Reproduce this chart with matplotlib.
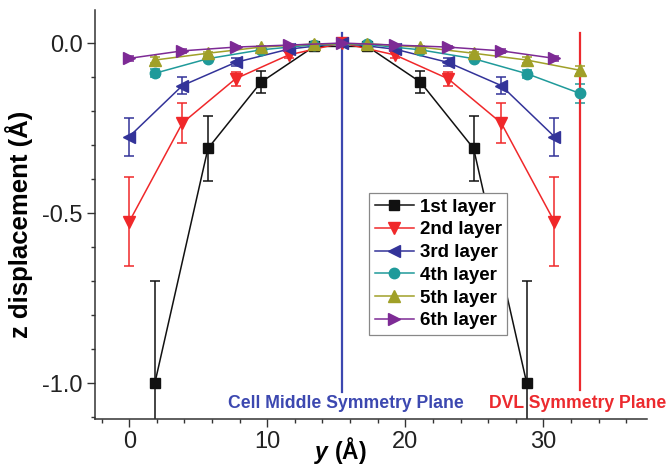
import matplotlib
matplotlib.use("Agg")
import matplotlib.pyplot as plt

plt.rcParams['font.family'] = ['Liberation Sans', 'DejaVu Sans']
plt.rcParams['mathtext.fontset'] = 'custom'
plt.rcParams['mathtext.it'] = 'Liberation Sans:bold:italic'
plt.rcParams['mathtext.rm'] = 'Liberation Sans:bold'
plt.rcParams['mathtext.bf'] = 'Liberation Sans:bold'

# ---- data ----
x_a = [0.0, 3.85, 7.7, 11.55, 15.4, 19.25, 23.1, 26.95, 30.8]
x_b = [1.85, 5.7, 9.55, 13.4, 17.25, 21.1, 24.95, 28.8]
x_c = [1.85, 5.7, 9.55, 13.4, 17.25, 21.1, 24.95, 28.8, 32.65]

layer1 = [-1.0, -0.31, -0.115, -0.01, -0.01, -0.115, -0.31, -1.0]
err1 = [0.30, 0.095, 0.033, 0.008, 0.008, 0.033, 0.095, 0.30]

layer2 = [-0.525, -0.235, -0.105, -0.035, 0.0, -0.035, -0.105, -0.235, -0.525]
err2 = [0.13, 0.058, 0.02, 0.01, 0.004, 0.01, 0.02, 0.058, 0.13]

layer3 = [-0.275, -0.125, -0.057, -0.018, 0.0, -0.018, -0.057, -0.125, -0.275]
err3 = [0.056, 0.025, 0.012, 0.005, 0.003, 0.005, 0.012, 0.025, 0.056]

layer4 = [-0.089, -0.046, -0.02, -0.005, -0.004, -0.02, -0.046, -0.09, -0.148]
err4 = [0.012, 0.006, 0.004, 0.002, 0.002, 0.004, 0.006, 0.012, 0.027]

layer5 = [-0.05, -0.03, -0.012, -0.003, -0.002, -0.012, -0.03, -0.05, -0.08]
err5 = [0.008, 0.005, 0.003, 0.002, 0.002, 0.003, 0.005, 0.008, 0.012]

layer6 = [-0.045, -0.023, -0.012, -0.006, 0.0, -0.006, -0.012, -0.023, -0.045]
err6 = [0.008, 0.005, 0.003, 0.002, 0.002, 0.002, 0.003, 0.005, 0.008]

labels = ['1st layer', '2nd layer', '3rd layer', '4th layer', '5th layer', '6th layer']

plane_x = [15.4, 32.65]
plane_top = [0.03, 0.03]
plane_bottom = [-1.026, -1.02]
plane_labels = ['Cell Middle Symmetry Plane', 'DVL Symmetry Plane']
plane_label_x = [15.7, 32.5]
plane_label_y = -1.059

# ---- style ----
colors = ['#111111', '#f0282a', '#333399', '#1f9a9a', '#a0a028', '#7d2a95']
markers = ['s', 'v', '<', 'o', '^', '>']
msizes = [7, 8.5, 8.5, 7.5, 8.5, 8.5]
plane_colors = ['#3c48b0', '#ec2a2e']

fig = plt.figure(figsize=(6.66, 4.66), dpi=100)
ax = fig.add_axes([0.1423, 0.1009, 0.8289, 0.8776])

series = [(x_b, layer1, err1), (x_a, layer2, err2), (x_a, layer3, err3),
          (x_c, layer4, err4), (x_c, layer5, err5), (x_a, layer6, err6)]

handles = []
for (xs, ys, es), c, m, ms, lab in zip(series, colors, markers, msizes, labels):
    cont = ax.errorbar(xs, ys, yerr=es, color=c, marker=m, markersize=ms, lw=1.1,
                       elinewidth=1.1, capsize=3.6, capthick=1.1, label=lab)
    handles.append(cont.lines[0])

for px, pt, pb, pc, pl, plx in zip(plane_x, plane_top, plane_bottom, plane_colors,
                                    plane_labels, plane_label_x):
    ax.plot([px, px], [pt, pb], color=pc, lw=1.6)
    ax.text(plx, plane_label_y, pl, color=pc, ha='center', va='center',
            fontsize=12.7, fontweight='bold')

ax.set_xlim(-2.5, 37.5)
ax.set_ylim(-1.105, 0.097)
ax.set_xticks([0, 10, 20, 30])
ax.set_xticks([x for x in range(-2, 38, 2)], minor=True)
ax.set_yticks([-1.0, -0.5, 0.0])
ax.set_yticklabels(['-1.0', '-0.5', '0.0'])
ax.set_yticks([-1.1 + 0.1 * i for i in range(12)], minor=True)

for s in ['top', 'right']:
    ax.spines[s].set_visible(False)
for s in ['left', 'bottom']:
    ax.spines[s].set_color('#333333')
    ax.spines[s].set_linewidth(1.1)

ax.tick_params(which='major', direction='out', length=5.5, width=1, color='#333333',
               labelsize=17, labelcolor='#222222', pad=3)
ax.tick_params(which='minor', direction='out', length=3, width=1, color='#333333')

ax.set_xlabel(r'$y$ (Å)', fontsize=16.5, fontweight='bold')
ax.set_ylabel('z displacement (Å)', fontsize=18.5, fontweight='bold')
ax.xaxis.set_label_coords(0.444, -0.04)
ax.yaxis.set_label_coords(-0.112, 0.477)

leg = ax.legend(handles=handles, labels=labels, loc='upper left',
                bbox_to_anchor=(0.497, 0.553), frameon=True,
                fancybox=False, edgecolor='#888888', framealpha=1,
                prop={'weight': 'bold', 'size': 13.5}, handlelength=2.1,
                labelspacing=0.3, borderpad=0.3, handletextpad=0.3,
                borderaxespad=0)
leg.get_frame().set_linewidth(0.9)

fig.savefig('out.png', dpi=100)
